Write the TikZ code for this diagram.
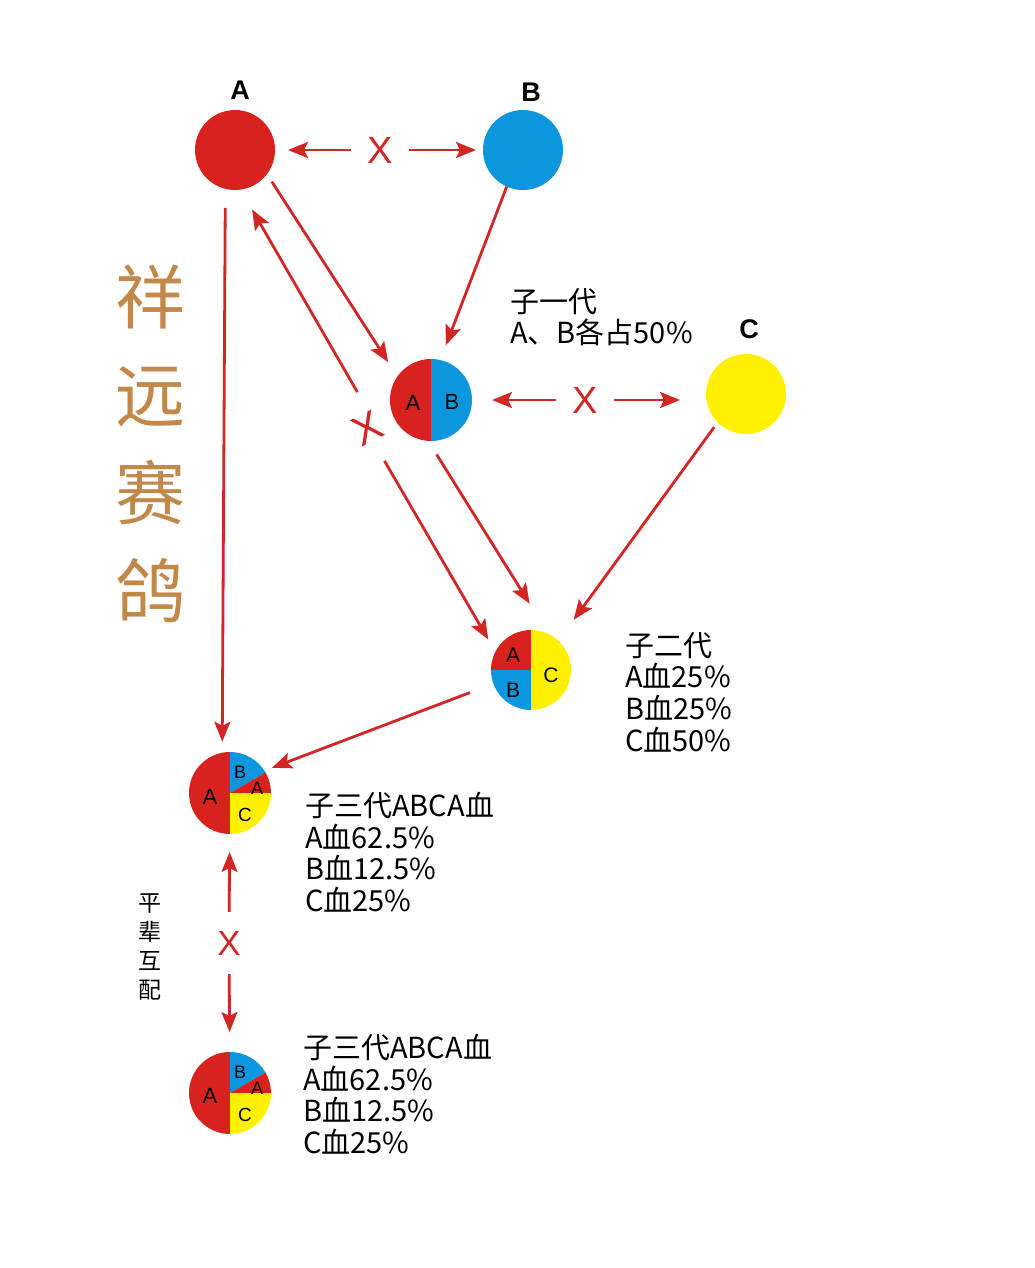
\documentclass[tikz,border=0pt]{standalone}
\usepackage{fontspec}
\setmainfont{Liberation Sans}
\newfontfamily\cjk{Noto Sans CJK SC}
\usetikzlibrary{positioning, arrows.meta}

\definecolor{bloodA}{RGB}{216,34,30}
\definecolor{bloodB}{RGB}{12,150,222}
\definecolor{bloodC}{RGB}{255,240,0}
\definecolor{linkred}{RGB}{210,38,36}
\definecolor{brand}{RGB}{194,136,74}

\begin{document}
\begin{tikzpicture}[x=1pt, y=-1pt,
    link/.style={-{Stealth[length=20pt, width=16pt, inset=4pt]}, color=linkred, line width=2.8pt},
    bird/.style={circle, minimum size=80pt, inner sep=0pt, outer sep=0pt},
    pie/.style={circle, minimum size=82pt, inner sep=0pt, outer sep=0pt},
    tag/.style={font=\fontsize{27}{27}\selectfont\bfseries, inner sep=0pt},
    cross/.style={circle, minimum size=58pt, inner sep=0pt, text=linkred, font=\fontsize{38}{38}\selectfont},
    share/.style={font=\fontsize{22}{22}\selectfont, inner sep=0pt},
    info/.style={font=\cjk\fontsize{29}{31.6}\selectfont, align=left, anchor=north west, inner sep=0pt}]

    \useasboundingbox[fill=white] (0,0) rectangle (1034,1268);

    % Parent birds
    \node[bird, fill=bloodA] (A) at (235,150) {};
    \node[bird, fill=bloodB] (B) at (523,150) {};
    \node[bird, fill=bloodC] (C) at (746,394) {};
    \node[tag, above=10pt of A, xshift=5pt] (tagA) {A};
    \node[tag, above=8pt of B, xshift=8pt] (tagB) {B};
    \node[tag, above=15pt of C, xshift=3pt] (tagC) {C};

    % Offspring
    \node[pie] (ab) at (431,400) {};
    \node[pie] (abc) at (531,670) {};
    \node[pie] (p3) at (230,793) {};
    \node[pie] (p4) at (230,1093) {};

    \fill[bloodA] (ab.center) -- ++(90:41pt) arc[start angle=90, end angle=270, radius=41pt] -- cycle;
    \fill[bloodB] (ab.center) -- ++(-90:41pt) arc[start angle=-90, end angle=90, radius=41pt] -- cycle;

    \fill[bloodA] (abc.center) -- ++(90:40pt) arc[start angle=90, end angle=180, radius=40pt] -- cycle;
    \fill[bloodB] (abc.center) -- ++(180:40pt) arc[start angle=180, end angle=270, radius=40pt] -- cycle;
    \fill[bloodC] (abc.center) -- ++(-90:40pt) arc[start angle=-90, end angle=90, radius=40pt] -- cycle;

    \foreach \p in {p3, p4} {
      \fill[bloodA] (\p.center) -- ++(90:41pt) arc[start angle=90, end angle=270, radius=41pt] -- cycle;
      \fill[bloodB] (\p.center) -- ++(30:41pt) arc[start angle=30, end angle=90, radius=41pt] -- cycle;
      \fill[bloodA] (\p.center) -- ++(0:41pt) arc[start angle=0, end angle=30, radius=41pt] -- cycle;
      \fill[bloodC] (\p.center) -- ++(-90:41pt) arc[start angle=-90, end angle=0, radius=41pt] -- cycle;
    }

    % Shares inside the pies
    \node[share] (abA) at (413,403) {A};
    \node[share] (abB) at (452,402) {B};
    \node[share, font=\fontsize{21}{21}\selectfont] (abcA) at (513,655) {A};
    \node[share, font=\fontsize{21}{21}\selectfont] (abcB) at (513,690) {B};
    \node[share, font=\fontsize{21}{21}\selectfont] (abcC) at (551,675) {C};
    \node[share] (p3A) at (210,797) {A};
    \node[share, font=\fontsize{18}{18}\selectfont] (p3B) at (240,772) {B};
    \node[share, font=\fontsize{18}{18}\selectfont] (p3a) at (257,788) {A};
    \node[share, font=\fontsize{19}{19}\selectfont] (p3C) at (245,815) {C};
    \node[share] (p4A) at (210,1096) {A};
    \node[share, font=\fontsize{18}{18}\selectfont] (p4B) at (240,1072) {B};
    \node[share, font=\fontsize{18}{18}\selectfont] (p4a) at (257,1088) {A};
    \node[share, font=\fontsize{19}{19}\selectfont] (p4C) at (245,1115) {C};

    % No-mating marks
    \node[cross] (xab) at (380,150) {X};
    \node[cross] (xmid) at (585,400) {X};
    \node[cross, minimum size=74pt, rotate=27, font=\fontsize{42}{42}\selectfont] (xcross) at (367,428) {X};
    \node[cross, minimum size=62pt, font=\fontsize{35}{35}\selectfont] (xvert) at (229,943) {X};

    % Notes
    \node[info] (note1) at (510,288) {子一代\\A、B各占50\%};
    \node[info] (note2) at (625,632) {子二代\\A血25\%\\B血25\%\\C血50\%};
    \node[info] (note3) at (305,792) {子三代ABCA血\\A血62.5\%\\B血12.5\%\\C血25\%};
    \node[info] (note4) at (303,1034) {子三代ABCA血\\A血62.5\%\\B血12.5\%\\C血25\%};
    \node[font=\cjk\fontsize{70}{98}\selectfont, text=brand, align=center, inner sep=0pt] (title) at (150,444) {祥\\远\\赛\\鸽};
    \node[font=\cjk\fontsize{23}{29}\selectfont, align=center, inner sep=0pt] (pair) at (150,947) {平\\辈\\互\\配};

    \path[link]
    % A x B
    (xab) edge [shorten >=13pt] (A)
    (xab) edge [shorten >=7pt] (B)
    % AB x C
    (xmid) edge [shorten >=20pt] (ab)
    (xmid) edge [shorten >=26pt] (xmid -| C.west)
    % first generation
    (A.-37) edge [shorten <=9pt, shorten >=17pt] (ab.145)
    (B.-114) edge [shorten >=16pt] (ab.77)
    % back-cross with A
    (xcross.78) edge [shorten >=23pt] (A.-82)
    (xcross.-89) edge [shorten >=13pt] (abc.152)
    % second generation
    (ab.-94) edge [shorten <=16pt, shorten >=34pt] (abc.66)
    (C.-135) edge [shorten <=6pt, shorten >=25pt] (abc.47)
    % third generation
    (A.-104) edge [shorten <=19pt, shorten >=11pt] (p3.101)
    (abc.-160) edge [shorten <=24pt, shorten >=8pt] (p3.33)
    (xvert) edge [shorten >=18pt] (p3)
    (xvert) edge [shorten >=20pt] (p4);
\end{tikzpicture}
\end{document}
